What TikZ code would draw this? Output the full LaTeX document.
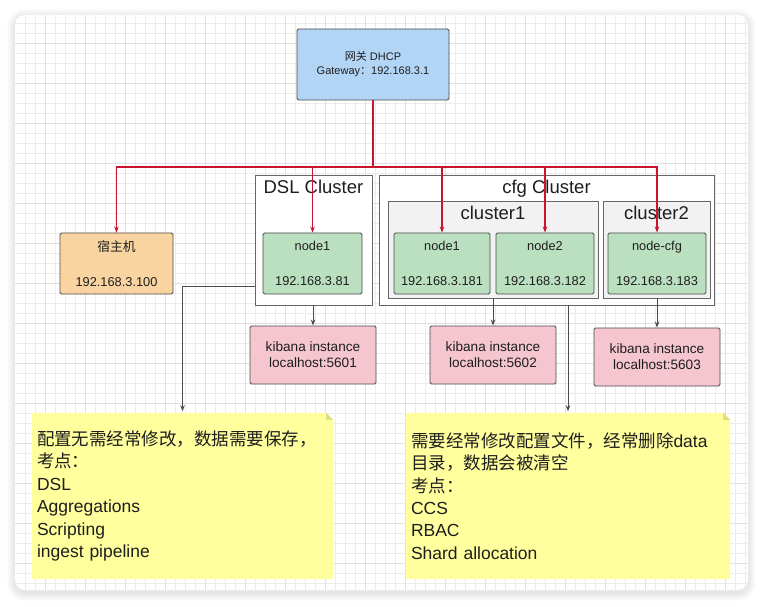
\documentclass[tikz,border=0pt]{standalone}
\usepackage{fontspec}
\setmainfont{Liberation Sans}
\newfontfamily\cjk{Noto Sans CJK SC}
\usetikzlibrary{arrows.meta, positioning, backgrounds}
\definecolor{color_gw}{RGB}{178,212,245}
\definecolor{color_host}{RGB}{250,212,160}
\definecolor{color_node}{RGB}{186,224,192}
\definecolor{color_sub}{RGB}{242,242,242}
\definecolor{color_kib}{RGB}{245,198,208}
\definecolor{color_note}{RGB}{255,255,158}
\definecolor{color_fold}{RGB}{222,222,130}
\definecolor{color_red}{RGB}{200,20,45}
\definecolor{color_line}{RGB}{75,75,75}
\definecolor{color_txt}{RGB}{30,30,30}
\definecolor{color_grid}{RGB}{236,236,236}
\definecolor{color_major}{RGB}{224,224,224}

\begin{document}
\begin{tikzpicture}[x=1pt, y=-1pt,
	box/.style={draw=color_line, line width=0.9pt, rounded corners=1.5pt, align=center, inner sep=0pt, text=color_txt},
	gwbox/.style={box, fill=color_gw, minimum width=152pt, minimum height=71pt, font=\fontsize{11}{14}\selectfont},
	hostbox/.style={box, fill=color_host, minimum width=113pt, minimum height=61pt, font=\fontsize{12.8}{15}\selectfont},
	nodebox/.style={box, fill=color_node, minimum height=61pt, font=\fontsize{12.8}{15}\selectfont},
	clusterbox/.style={box, draw=color_line!85, fill=white, rounded corners=0pt},
	subclusterbox/.style={clusterbox, fill=color_sub},
	kibanabox/.style={box, fill=color_kib, minimum width=126pt, minimum height=58pt, font=\fontsize{13.6}{16}\selectfont},
	notebox/.style={align=left, text width=291pt, inner xsep=5pt, inner ysep=0pt, minimum height=169pt, text=color_txt, font=\fontsize{17.5}{22.4}\selectfont},
	clabel/.style={anchor=north, yshift=-5pt, inner sep=0pt, text=color_txt, font=\fontsize{18.5}{20}\selectfont},
	redarrow/.style={draw=color_red, line width=1.2pt, -{Stealth[length=6pt, width=4.5pt]}},
	grayarrow/.style={draw=color_line, line width=1pt, -{Stealth[length=6pt, width=4.5pt]}}]
	\useasboundingbox (0,0) rectangle (764,607);

	% GATEWAY
	\node[gwbox] (gw) at (373,64.5) {{\cjk 网关} DHCP\\Gateway{\cjk ：}192.168.3.1};
	% HOST
	\node[hostbox] (host) at (116.5,263.5) {{\cjk 宿主机}\\[20pt]192.168.3.100};
	% DSL CLUSTER
	\node[clusterbox, minimum width=117pt, minimum height=130pt,
		label={[clabel]north:DSL Cluster}] (dsl) at (313.5,240) {};
	\node[nodebox, minimum width=99pt] (dslnode) at (312.5,263.5) {node1\\[20pt]192.168.3.81};
	% CFG CLUSTER
	\node[clusterbox, minimum width=335pt, minimum height=130pt,
		label={[clabel]north:cfg Cluster}] (cfg) at (546.5,240) {};
	\node[subclusterbox, minimum width=210pt, minimum height=97pt,
		label={[clabel]north:cluster1}] (c1) at (493,249.5) {};
	\node[subclusterbox, minimum width=107pt, minimum height=97pt,
		label={[clabel]north:cluster2}] (c2) at (656.5,249.5) {};
	\node[nodebox, minimum width=96pt] (cfgnode1) at (442,263.5) {node1\\[20pt]192.168.3.181};
	\node[nodebox, minimum width=98pt] (cfgnode2) at (545,263.5) {node2\\[20pt]192.168.3.182};
	\node[nodebox, minimum width=98pt] (nodecfg) at (657,263.5) {node-cfg\\[20pt]192.168.3.183};
	% KIBANA
	\node[kibanabox] (k1) at (313,355) {kibana instance\\localhost:5601};
	\node[kibanabox] (k2) at (493,355) {kibana instance\\localhost:5602};
	\node[kibanabox] (k3) at (657,357) {kibana instance\\localhost:5603};
	% NOTES
	\node[notebox] (note1) at (182.5,496) {{\cjk 配置无需经常修改，数据需要保存，}\\{\cjk 考点：}\\DSL\\Aggregations\\Scripting\\ingest pipeline};
	\node[notebox, text width=314pt] (note2) at (568,496) {{\cjk 需要经常修改配置文件，经常删除}data\\{\cjk 目录，数据会被清空}\\{\cjk 考点：}\\CCS\\RBAC\\Shard allocation};

	% RED LINKS
	\coordinate (bus) at (373,167);
	\draw[color_red, line width=1.2pt] (gw.south) -- (bus);
	\foreach \t in {host, dslnode, cfgnode1, cfgnode2, nodecfg}
		\draw[redarrow] (bus) -| (\t.north);
	% GRAY LINKS
	\draw[grayarrow] (k1.north |- dsl.south) -- (k1.north);
	\draw[grayarrow] (k2.north |- c1.south) -- (k2.north);
	\draw[grayarrow] (k3.north |- c2.south) -- (k3.north);
	\draw[grayarrow] (dsl.west |- 0,286) -| (note1.north);
	\draw[grayarrow] (note2.north |- cfg.south) -- (note2.north);

	% CARD AND GRID
	\begin{scope}[on background layer]
		\fill[white] (0,0) rectangle (764,607);
		\foreach \s in {1,...,8}
			\fill[black, opacity=0.012, rounded corners=10pt+\s pt] (15-\s,15-\s+2) rectangle (748+\s,590+\s+3);
		\fill[white, rounded corners=10pt] (15,15) rectangle (748,590);
		\begin{scope}
			\clip[rounded corners=10pt] (15,15) rectangle (748,590);
			\foreach \x in {25,35,...,745} \draw[color_grid, line width=0.6pt] (\x,15) -- (\x,590);
			\foreach \y in {23,33,...,589} \draw[color_grid, line width=0.6pt] (15,\y) -- (748,\y);
			\foreach \x in {45,85,...,745} \draw[color_major, line width=0.7pt] (\x,15) -- (\x,590);
			\foreach \y in {43,83,...,589} \draw[color_major, line width=0.7pt] (15,\y) -- (748,\y);
		\end{scope}
		% note shapes with folded corner
		\foreach \n in {note1, note2} {
			\fill[color_note] ([yshift=1.5pt]\n.south west) -- ([yshift=-1.5pt]\n.north west) -- ([xshift=-7pt, yshift=-1.5pt]\n.north east)
				-- ([yshift=-8.5pt]\n.north east) -- ([yshift=1.5pt]\n.south east) -- cycle;
			\fill[color_fold] ([xshift=-7pt, yshift=-1.5pt]\n.north east) -- ([yshift=-8.5pt]\n.north east)
				-- ([xshift=-7pt, yshift=-8.5pt]\n.north east) -- cycle;
		}
	\end{scope}
\end{tikzpicture}
\end{document}
